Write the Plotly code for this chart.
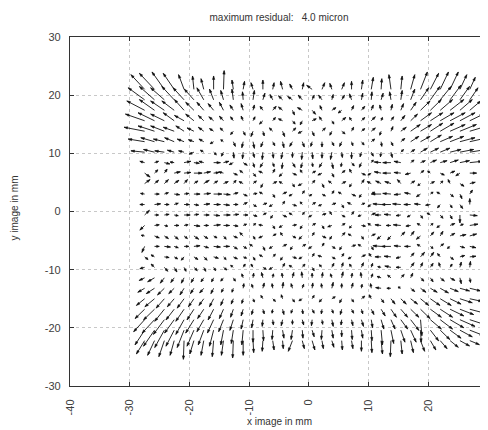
import math
import plotly.graph_objects as go

# grid positions (mm)
xs = [-27.5, -25.85, -24.2, -22.55, -20.9, -19.25, -17.6, -15.95, -14.3, -12.65, -11.0, -9.35,
      -7.7, -6.05, -4.4, -2.75, -1.1, 0.55, 2.2, 3.85, 5.5, 7.15, 8.8, 10.45, 12.1, 13.75,
      15.4, 17.05, 18.7, 20.35, 22.0, 23.65, 25.3, 26.95]
ys = [21.0, 19.2, 17.4, 15.6, 13.8, 12.0, 10.2, 8.4, 6.6, 4.8, 3.0, 1.2, -0.6, -2.4, -4.2,
      -6.0, -7.8, -9.6, -11.4, -13.2, -15.0, -16.8, -18.6, -20.4, -22.2]

# residual components, units of 0.1 micron, one list per row (top to bottom)
U = [
 [-20,-22,-18,-16,-8,-2,-4,0,1,-2,2,-3,0,2,-3,-4,2,-8,4,-3,4,0,2,3,1,-3,2,6,10,12,12,12,10,8],
 [-24,-22,-20,-18,-16,-14,-10,-6,-4,-2,-1,2,3,-4,-6,-7,-6,3,-5,2,4,-3,2,1,3,-2,2,6,12,14,16,16,14,12],
 [-26,-22,-20,-18,-14,-12,-10,-8,-6,-5,-3,2,-4,5,-6,3,-7,5,-3,6,-5,3,5,3,-2,2,4,8,14,16,18,20,18,16],
 [-28,-24,-20,-16,-14,-12,-8,-7,-6,-4,-3,3,-5,4,-6,4,-3,6,-4,3,6,-3,5,6,2,4,6,10,16,18,20,22,22,20],
 [-30,-24,-20,-16,-12,-10,-8,-6,-5,-4,3,-3,2,-5,3,5,-6,3,5,-3,5,3,5,6,-2,3,8,14,16,18,20,22,24,26],
 [-24,-20,-16,-14,-10,-8,-7,-5,-4,3,-2,2,-3,3,2,-4,3,-2,0,3,-3,2,4,5,1,3,6,12,14,16,18,20,22,26],
 [-20,-16,-14,-10,-8,-7,-5,4,-3,1,-1,2,-1,1,-2,0,-1,1,0,-2,1,0,-2,3,-1,2,4,6,10,12,14,16,20,24],
 [-7,6,8,-6,10,8,-7,10,8,-6,6,2,-4,2,-1,4,-2,1,-4,2,-1,4,-3,3,-10,-12,-10,5,7,9,10,12,14,18],
 [8,5,4,9,10,12,10,8,-7,6,-5,4,-6,3,-5,6,-3,5,-6,3,5,-3,6,-5,-10,-12,-10,-8,5,-4,6,7,-6,10],
 [8,6,6,7,5,6,8,6,7,4,-6,5,-3,6,-5,3,-6,4,3,-5,6,-3,4,-6,-8,-9,-5,6,-4,6,4,-3,6,8],
 [-6,7,6,8,7,9,10,12,10,7,6,6,-5,3,6,-5,3,-4,5,3,-5,6,-3,5,-14,-12,-10,-9,-6,4,-5,5,3,4],
 [-7,9,7,6,8,7,9,10,9,7,6,5,6,-5,3,6,-3,5,-5,6,3,-6,5,-5,-12,-14,-12,-10,-9,-7,-4,3,4,0],
 [7,6,7,6,9,7,8,9,10,8,7,6,5,-3,6,-5,3,-5,6,-3,5,3,-5,6,-9,-10,-7,-5,3,-5,4,3,0,11],
 [-7,7,5,7,6,9,7,10,9,7,5,4,-6,3,-5,6,-3,5,3,-6,5,-3,6,-5,-9,-7,-11,-7,-5,4,-5,7,5,12],
 [-5,7,6,6,5,7,6,5,4,6,-5,3,-6,5,-3,5,-5,3,6,-3,5,-5,3,6,-6,-5,6,5,-6,5,4,7,9,10],
 [-4,7,9,6,7,9,7,10,9,6,5,-5,3,-5,6,-3,5,-5,3,5,-3,6,-5,3,-12,-14,-10,-9,-5,4,5,-4,7,9],
 [5,-5,7,5,-4,6,5,7,4,6,5,3,-5,4,-3,6,-5,3,-6,5,3,-5,6,-3,-9,-10,-7,5,6,5,-4,5,7,9],
 [-7,-5,5,4,3,5,3,3,5,-4,3,-3,5,-5,3,-5,4,3,-4,3,2,-3,3,2,-5,-9,-7,5,3,4,-2,3,2,1],
 [-8,-10,-6,-5,-4,-4,-4,-3,-4,3,-2,1,-2,1,-1,2,-1,0,1,-2,2,1,-1,2,-6,-5,5,3,5,4,6,7,2,1],
 [-10,-12,-10,-8,-6,-5,-6,-4,-3,-2,1,-2,2,-1,1,-2,2,1,-1,2,0,2,1,-1,-8,-6,-4,6,8,10,12,12,14,16],
 [-12,-14,-12,-10,-10,-8,-7,-6,-4,-3,-2,2,-3,4,-2,3,-5,3,-4,5,-3,3,5,-3,4,6,8,10,12,14,16,16,18,18],
 [-14,-16,-14,-12,-12,-10,-9,-8,-6,-4,-3,-2,2,-1,2,-2,1,3,-1,2,-2,3,2,4,6,8,10,12,14,16,18,20,20,22],
 [-16,-18,-16,-14,-12,-12,-10,-9,-7,-5,-3,-2,-1,1,-2,0,2,-1,1,2,-1,2,3,2,4,6,10,12,2,16,18,20,22,24],
 [-14,-16,-14,-12,-10,-10,-8,-6,-4,-3,-2,0,1,-1,2,-2,1,3,-1,2,0,1,2,1,2,4,6,8,1,12,14,16,18,20],
 [-12,-10,-8,-6,-1,-6,-4,-2,-3,-1,0,1,-1,2,1,-6,3,4,2,3,1,2,0,1,2,-1,2,4,6,8,10,12,14,14],
]
V = [
 [22,24,26,24,22,20,16,20,28,14,12,10,14,10,12,8,10,6,10,9,10,12,14,18,16,22,20,22,26,24,26,26,22,18],
 [18,20,18,20,18,16,18,16,14,16,12,14,10,8,6,5,7,7,7,8,7,9,10,12,10,12,14,16,18,20,20,22,20,18],
 [14,16,14,14,16,12,12,10,12,8,10,8,6,6,5,-7,4,-6,7,4,-4,7,6,8,8,9,10,12,14,16,16,16,16,14],
 [10,12,10,12,8,10,8,6,7,6,7,6,-5,5,3,-5,-6,3,6,-5,5,5,5,6,5,6,8,10,12,12,12,12,12,10],
 [6,8,8,6,8,5,6,4,5,-5,-6,-8,-7,5,-8,5,-3,-7,5,-6,-4,6,4,5,-6,7,6,10,10,12,12,10,10,8],
 [4,6,4,6,4,3,4,-3,3,-7,-9,-10,-8,-6,-9,-7,-8,-7,-8,-6,-7,-6,-5,4,-7,-6,5,8,8,10,8,8,6,6],
 [2,4,2,3,2,-3,3,-4,-6,-9,-10,-8,-11,-9,-10,-8,-11,-10,-9,-11,-8,-10,-7,-6,-7,-8,4,4,6,6,6,4,4,4],
 [2,2,-2,1,2,-1,2,0,2,-3,-4,-7,-7,-6,-9,-7,-8,-6,-7,-9,-6,-5,-7,4,1,0,2,4,3,4,3,4,3,2],
 [-6,5,6,2,1,0,2,1,2,-3,4,-5,3,6,-5,-3,5,3,-3,-6,4,6,-3,-3,2,0,1,-2,4,3,-3,3,-4,0],
 [6,5,6,5,6,4,5,4,3,5,3,4,-6,3,3,-5,-3,5,-6,4,3,-5,6,3,4,3,6,4,-3,3,4,6,-4,2],
 [1,0,2,-1,1,0,1,0,-1,2,-3,1,3,-5,3,-3,5,-3,-3,5,3,-3,-5,3,0,1,-1,2,-4,3,3,-4,-7,6],
 [0,1,0,2,0,-1,1,0,-1,0,3,-3,2,-3,5,-2,4,3,-2,2,-5,3,2,-3,1,0,1,0,1,-1,-5,-5,-6,9],
 [7,0,1,-1,0,1,0,-1,0,1,0,-2,3,-5,-3,3,4,-3,2,5,-3,5,-2,3,0,1,-1,-3,-5,3,-5,-6,-12,-1],
 [-7,1,-1,0,1,-1,0,1,0,-1,2,3,1,-5,-3,1,-5,3,-5,-2,3,-4,-1,3,1,0,1,-1,3,3,-3,3,2,2],
 [1,-3,-4,-5,-4,-5,-4,-3,-5,-3,5,-5,-3,3,5,-3,-5,5,-3,-5,5,3,-5,3,-5,-6,6,7,-5,6,7,4,2,3],
 [-9,0,-1,-2,0,1,-2,-1,0,-4,-3,3,-6,-3,3,-5,3,-3,5,-3,-5,2,3,-5,1,0,1,0,3,-3,4,-3,-2,-2],
 [-4,3,-1,-3,-5,-4,-5,-2,-4,-3,-2,-5,3,4,-5,-2,-3,5,2,-3,5,-3,3,5,0,1,-2,6,7,7,5,-4,2,1],
 [-2,5,-6,-7,-6,-5,-6,-5,-4,3,5,5,-3,-3,6,3,5,-5,4,6,7,5,7,6,1,2,0,7,7,6,7,5,8,9],
 [-4,-6,-8,-7,-8,-7,-6,-6,-5,-5,6,7,8,6,7,8,9,7,8,6,9,7,8,6,2,4,5,7,-5,-6,-5,-4,-9,-7],
 [-6,-8,-10,-8,-10,-8,-7,-8,-6,-6,7,6,8,7,9,7,6,8,7,9,7,8,6,7,1,0,2,-5,-6,-6,-7,-5,-4,-4],
 [-10,-12,-14,-12,-14,-12,-10,-12,-10,-8,-7,-5,5,-4,6,-5,-3,5,-5,3,-6,-5,4,6,-6,-8,-8,-8,-10,-10,-10,-8,-6,-4],
 [-14,-16,-18,-16,-18,-16,-14,-16,-14,-12,-10,-8,-7,-6,-8,-6,-7,-6,-7,-6,-8,-6,-7,-8,-10,-12,-12,-12,-14,-12,-12,-10,-8,-6],
 [-18,-20,-22,-20,-22,-20,-18,-20,-18,-16,-14,-12,-10,-8,-9,-7,-8,-9,-7,-10,-8,-9,-10,-12,-14,-14,-14,-16,-24,-14,-14,-12,-10,-8],
 [-22,-24,-26,-24,-26,-24,-22,-24,-22,-20,-22,-18,-16,-14,-12,-14,-12,-10,-14,-12,-10,-14,-12,-16,-22,-20,-18,-18,-18,-16,-14,-12,-10,-8],
 [-20,-22,-24,-22,-28,-20,-22,-24,-22,-26,-22,-18,-16,-14,-12,-16,-12,-14,-12,-10,-14,-12,-16,-18,-20,-24,-20,-18,-16,-14,-12,-10,-8,-6],
]

x_ticks = [-40, -30, -20, -10, 0, 10, 20, 30]
y_ticks = [-30, -20, -10, 0, 10, 20, 30]
title_text = "maximum residual:\u00a0\u00a0\u00a04.0 micron"

if len(U) != len(ys) or len(V) != len(ys):
    raise ValueError("row count mismatch")
for i, (ru, rv) in enumerate(zip(U, V)):
    if len(ru) != len(xs) or len(rv) != len(xs):
        raise ValueError(f"row {i} length mismatch {len(ru)} {len(rv)}")

scale = 0.115   # mm of arrow per 0.1 micron
head_len = 0.6
head_half = 0.2

sx, sy, hx, hy = [], [], [], []
for r, y0 in enumerate(ys):
    for c, x0 in enumerate(xs):
        dx = U[r][c] * scale
        dy = V[r][c] * scale
        L = math.hypot(dx, dy)
        if L == 0:
            continue
        x1, y1 = x0 + dx, y0 + dy
        sx += [x0, x1, None]
        sy += [y0, y1, None]
        ux, uy = dx / L, dy / L
        hl = min(head_len, 0.55 * L)
        bx, by = x1 - hl * ux, y1 - hl * uy
        px, py = -uy * head_half, ux * head_half
        hx += [x1, bx + px, bx - px, x1, None]
        hy += [y1, by + py, by - py, y1, None]

fig = go.Figure()
fig.add_trace(go.Scatter(x=sx, y=sy, mode="lines", line=dict(color="#111111", width=0.9),
                         hoverinfo="skip", showlegend=False))
fig.add_trace(go.Scatter(x=hx, y=hy, mode="lines", fill="toself", fillcolor="#111111",
                         line=dict(color="#111111", width=0.5), hoverinfo="skip", showlegend=False))

# page body has an 8px margin: figure is drawn 8px right/down of the window corner
font_family = "Liberation Sans, Arial, sans-serif"
fig.update_layout(
    width=480, height=422,
    margin=dict(l=62, r=0, t=29, b=44, autoexpand=False),
    paper_bgcolor="white", plot_bgcolor="white",
    showlegend=False,
    font=dict(family=font_family, size=10, color="#404040"),
    title=dict(text=title_text, x=0.5, xref="paper", xanchor="center",
               y=1 - 9 / 422, yref="container", yanchor="middle",
               font=dict(family=font_family, size=10, color="#333333")),
    xaxis=dict(range=[-40, 30], tickvals=x_ticks, ticktext=[str(v) for v in x_ticks],
               tickangle=-90, ticks="inside", ticklen=4, tickcolor="#333333",
               showline=True, linecolor="#333333", linewidth=1.2, mirror="ticks",
               showgrid=True, gridcolor="#c8c8c8", gridwidth=1, griddash="3px,3px",
               zeroline=False, automargin=False, ticklabelstandoff=8,
               tickfont=dict(family=font_family, size=11, color="#404040")),
    yaxis=dict(range=[-30, 30], tickvals=y_ticks, ticktext=[str(v) for v in y_ticks],
               ticks="inside", ticklen=4, tickcolor="#333333",
               showline=True, linecolor="#333333", linewidth=1.2, mirror=False,
               showgrid=True, gridcolor="#c8c8c8", gridwidth=1, griddash="3px,3px",
               zeroline=False, automargin=False, ticklabelstandoff=6,
               tickfont=dict(family=font_family, size=11, color="#404040")),
    annotations=[
        dict(text="x image in mm", xref="paper", yref="paper", x=0.5, y=-(421 - 386) / 349,
             xanchor="center", yanchor="middle", showarrow=False,
             font=dict(family=font_family, size=10, color="#333333")),
        dict(text="y image in mm", xref="paper", yref="paper", x=-(70 - 13.5) / 418,
             y=(386 - 208) / 349, xanchor="center", yanchor="middle", textangle=-90,
             showarrow=False, font=dict(family=font_family, size=10, color="#333333")),
    ],
)

fig.write_html("out.html")
